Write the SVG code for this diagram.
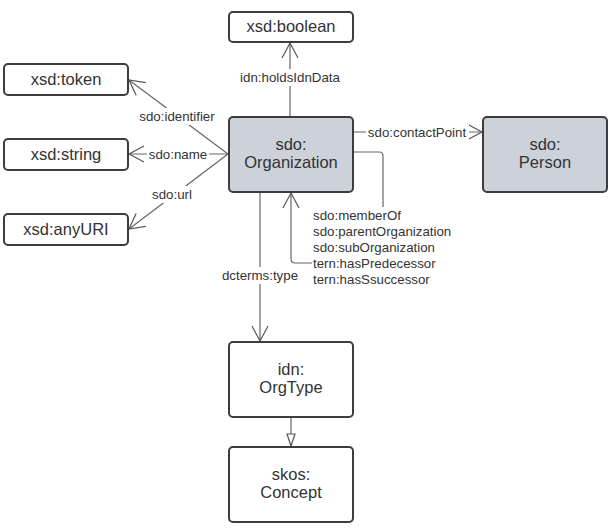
<svg xmlns="http://www.w3.org/2000/svg" width="614" height="530" viewBox="0 0 614 530">
<style>
.node rect{fill:#ffffff;stroke:#3d3d3d;stroke-width:2}
.node.shaded rect{fill:#ccd1da}
.node text{font-family:"Liberation Sans",Arial,sans-serif;font-size:16.5px;fill:#333333;text-anchor:middle}
.edge{fill:none;stroke:#666666;stroke-width:1.2}
.lbl{font-family:"Liberation Sans",Arial,sans-serif;font-size:13.3px;fill:#333333}
.bg{fill:#ffffff}
</style>
<defs>
<marker id="open" markerUnits="userSpaceOnUse" markerWidth="20" markerHeight="20" viewBox="-17 -10 20 20" refX="0" refY="0" orient="auto">
<path d="M-15,-8 L0,0 L-15,8" fill="none" stroke="#555555" stroke-width="1.2"/>
</marker>
<marker id="tri" markerUnits="userSpaceOnUse" markerWidth="16" markerHeight="12" viewBox="-13 -6 16 12" refX="0" refY="0" orient="auto">
<path d="M-12,-4 L0,0 L-12,4 Z" fill="#ffffff" stroke="#555555" stroke-width="1.2"/>
</marker>
</defs>
<rect width="614" height="530" fill="#ffffff"/>
<g id="connectors">
<path class="edge" d="M290,117 V43" marker-end="url(#open)"/>
<path class="edge" d="M228,154 L129,80" marker-end="url(#open)"/>
<path class="edge" d="M228,154 H129" marker-end="url(#open)"/>
<path class="edge" d="M228,154 L129,229" marker-end="url(#open)"/>
<path class="edge" d="M354,132 H482" marker-end="url(#open)"/>
<path class="edge" d="M354,152 H379 Q383,152 383,156 V263 H295 Q291,263 291,259 V193" marker-end="url(#open)"/>
<path class="edge" d="M260,193 V341" marker-end="url(#open)"/>
<path class="edge" d="M291,418 V446" marker-end="url(#tri)"/>
<rect class="bg" x="239" y="69" width="104" height="17"/>
<text class="lbl" x="290" y="82" text-anchor="middle">idn:holdsIdnData</text>
<rect class="bg" x="136" y="108" width="82" height="17"/>
<text class="lbl" x="177" y="121" text-anchor="middle">sdo:identifier</text>
<rect class="bg" x="147" y="146" width="62" height="17"/>
<text class="lbl" x="178" y="159" text-anchor="middle">sdo:name</text>
<rect class="bg" x="149" y="186" width="47" height="17"/>
<text class="lbl" x="172" y="199" text-anchor="middle">sdo:url</text>
<rect class="bg" x="366" y="124" width="103" height="17"/>
<text class="lbl" x="417" y="137" text-anchor="middle">sdo:contactPoint</text>
<rect class="bg" x="218" y="267" width="84" height="17"/>
<text class="lbl" x="260" y="280" text-anchor="middle">dcterms:type</text>
<rect class="bg" x="312" y="207" width="144" height="81"/>
<text class="lbl" x="313" y="220">sdo:memberOf</text>
<text class="lbl" x="313" y="236">sdo:parentOrganization</text>
<text class="lbl" x="313" y="252">sdo:subOrganization</text>
<text class="lbl" x="313" y="268">tern:hasPredecessor</text>
<text class="lbl" x="313" y="284">tern:hasSsuccessor</text>
</g>
<g id="xsd-boolean" class="node"><rect x="229" y="12" width="124" height="30" rx="4"/><text x="291" y="32">xsd:boolean</text></g>
<g id="xsd-token" class="node"><rect x="4" y="64" width="124" height="31" rx="4"/><text x="66" y="85">xsd:token</text></g>
<g id="xsd-string" class="node"><rect x="4" y="139" width="124" height="31" rx="4"/><text x="66" y="160">xsd:string</text></g>
<g id="xsd-anyURI" class="node"><rect x="4" y="214" width="124" height="31" rx="4"/><text x="66" y="235">xsd:anyURI</text></g>
<g id="sdo-Organization" class="node shaded"><rect x="229" y="117" width="124" height="75" rx="4"/><text x="291" y="150">sdo:</text><text x="291" y="168">Organization</text></g>
<g id="sdo-Person" class="node shaded"><rect x="483" y="117" width="124" height="75" rx="4"/><text x="545" y="150">sdo:</text><text x="545" y="168">Person</text></g>
<g id="idn-OrgType" class="node"><rect x="229" y="342" width="124" height="75" rx="4"/><text x="291" y="375">idn:</text><text x="291" y="393">OrgType</text></g>
<g id="skos-Concept" class="node"><rect x="229" y="447" width="124" height="75" rx="4"/><text x="291" y="480">skos:</text><text x="291" y="498">Concept</text></g>
</svg>
